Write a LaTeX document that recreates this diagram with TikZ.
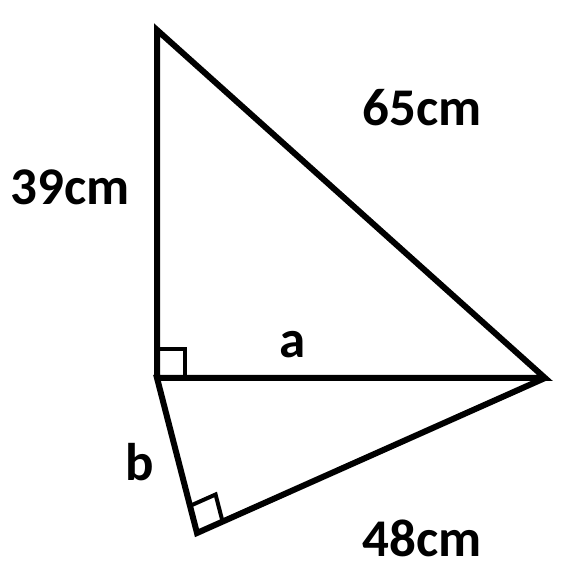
\documentclass[tikz,border=0pt]{standalone}
\usepackage{fontspec}
\setmainfont{Carlito}
\usetikzlibrary{calc}
\begin{document}
\begin{tikzpicture}[x=1pt,y=1pt,
  edge/.style={line width=6pt},
  rmark/.style={line width=4pt},
  lbl/.style={font=\bfseries\fontsize{53}{60}\selectfont, inner sep=0pt}]
\useasboundingbox (0,0) rectangle (566,577);
\coordinate (T) at (157,547);
\coordinate (C) at (157,199);
\coordinate (R) at (545,199);
\coordinate (B) at (197,44);
\draw[edge, line join=miter] (C) -- (T) -- (R) -- (C) -- (B) -- (R);
\draw[rmark] (157,228) -- (185,228) -- (185,199);
\draw[rmark] ($(B)!28pt!(C)$) -- ($($(B)!28pt!(C)$)+($(B)!28pt!(R)$)-(B)$) -- ($(B)!28pt!(R)$);
\node[lbl] (l65) at (422,469) {65cm};
\node[lbl] (l39) at (70,390) {39cm};
\node[lbl] (la) at (293,232) {a};
\node[lbl] (lb) at (140,115) {b};
\node[lbl] (l48) at (422,39) {48cm};
\end{tikzpicture}
\end{document}
